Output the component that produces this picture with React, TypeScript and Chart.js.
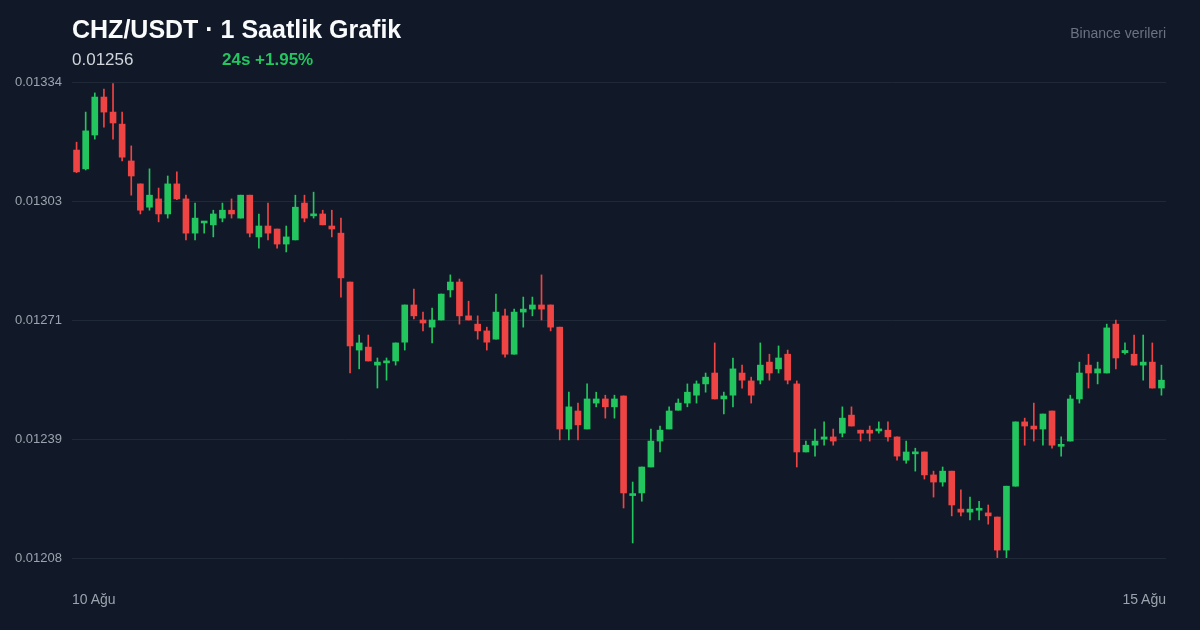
import { useEffect, useRef } from "react";
import { Chart, registerables } from "chart.js";

Chart.register(...registerables);

// ---- Data (CHZ/USDT hourly candles, 10–15 Ağu) ----
const opens = [
  0.013163, 0.013113, 0.013203, 0.013304, 0.013264, 0.013232, 0.013134, 0.013073, 0.013011, 0.013033,
  0.012993, 0.013073, 0.013033, 0.012942, 0.012969, 0.012964, 0.012982, 0.013003, 0.012982, 0.013043,
  0.012932, 0.012961, 0.012953, 0.012913, 0.012924, 0.013022, 0.012988, 0.012993, 0.012961, 0.012942,
  0.012812, 0.012631, 0.012639, 0.012591, 0.012597, 0.012602, 0.012652, 0.012751, 0.012711, 0.012692,
  0.012711, 0.012791, 0.012812, 0.012722, 0.0127, 0.012682, 0.01266, 0.012722, 0.01262, 0.012732,
  0.01274, 0.012751, 0.012751, 0.012692, 0.012421, 0.012469, 0.012421, 0.01249, 0.012501, 0.01248,
  0.012509, 0.012244, 0.012251, 0.01232, 0.012389, 0.012421, 0.012471, 0.01249, 0.012511, 0.012541,
  0.01257, 0.012501, 0.012511, 0.01257, 0.012549, 0.012551, 0.012599, 0.012581, 0.01262, 0.012541,
  0.01236, 0.012378, 0.012394, 0.0124, 0.01241, 0.012458, 0.012418, 0.012418, 0.012416, 0.012418,
  0.0124, 0.012338, 0.012355, 0.01236, 0.012299, 0.01228, 0.012309, 0.012208, 0.0122, 0.012205,
  0.012198, 0.012187, 0.012099, 0.012269, 0.01244, 0.012429, 0.012421, 0.012469, 0.012375, 0.012389,
  0.012501, 0.012591, 0.01257, 0.01257, 0.0127, 0.012624, 0.01262, 0.012591, 0.012599, 0.01253,
];

const highs = [
  0.013184, 0.013264, 0.013315, 0.013325, 0.01334, 0.013264, 0.013174, 0.013073, 0.013113, 0.013062,
  0.013094, 0.013105, 0.013043, 0.013022, 0.012973, 0.013003, 0.013022, 0.013033, 0.013043, 0.013043,
  0.012993, 0.013022, 0.012953, 0.012961, 0.013043, 0.013043, 0.013051, 0.013003, 0.013003, 0.012982,
  0.012812, 0.012671, 0.012671, 0.01261, 0.01261, 0.01265, 0.012751, 0.012793, 0.012732, 0.012743,
  0.01278, 0.012831, 0.01282, 0.012761, 0.012722, 0.012692, 0.01278, 0.01274, 0.01274, 0.012772,
  0.012772, 0.012831, 0.012751, 0.012692, 0.012519, 0.01249, 0.012541, 0.012519, 0.012511, 0.012511,
  0.012509, 0.01228, 0.01232, 0.012421, 0.012429, 0.01248, 0.012501, 0.012541, 0.012549, 0.01257,
  0.01265, 0.012519, 0.01261, 0.012591, 0.012559, 0.01265, 0.01262, 0.012642, 0.012631, 0.012549,
  0.012389, 0.012421, 0.01244, 0.012421, 0.01248, 0.01248, 0.012418, 0.012429, 0.01244, 0.01244,
  0.0124, 0.012389, 0.01237, 0.01236, 0.012309, 0.01232, 0.012309, 0.012259, 0.01224, 0.012229,
  0.012219, 0.012187, 0.012269, 0.01244, 0.01245, 0.01249, 0.012461, 0.012469, 0.0124, 0.012511,
  0.012599, 0.01262, 0.012599, 0.0127, 0.012711, 0.01265, 0.012671, 0.012671, 0.01265, 0.012591,
];

const lows = [
  0.013103, 0.01311, 0.013192, 0.013224, 0.013192, 0.013134, 0.013043, 0.012993, 0.013003, 0.012972,
  0.012982, 0.013031, 0.012924, 0.012924, 0.012942, 0.012932, 0.012972, 0.012982, 0.012982, 0.012932,
  0.012902, 0.012924, 0.012902, 0.012892, 0.012924, 0.012972, 0.012982, 0.012964, 0.012932, 0.012772,
  0.01257, 0.012581, 0.012602, 0.01253, 0.012551, 0.012591, 0.012631, 0.012714, 0.012682, 0.01265,
  0.012711, 0.012772, 0.0127, 0.012711, 0.01266, 0.012631, 0.01266, 0.012612, 0.01262, 0.012692,
  0.012722, 0.012711, 0.012682, 0.012392, 0.012392, 0.012392, 0.012421, 0.01248, 0.01245, 0.01245,
  0.012211, 0.012118, 0.012229, 0.01232, 0.01236, 0.012421, 0.012471, 0.01248, 0.01249, 0.012519,
  0.012501, 0.012461, 0.01248, 0.01253, 0.01249, 0.012541, 0.012551, 0.01257, 0.012541, 0.01232,
  0.01236, 0.012349, 0.012378, 0.012378, 0.0124, 0.012429, 0.012389, 0.012389, 0.01241, 0.012389,
  0.012338, 0.01233, 0.012309, 0.012288, 0.01224, 0.012269, 0.01219, 0.01219, 0.012179, 0.012179,
  0.012168, 0.012079, 0.012079, 0.012269, 0.012378, 0.012389, 0.012378, 0.01237, 0.012349, 0.012389,
  0.01249, 0.01253, 0.012541, 0.01257, 0.012581, 0.01262, 0.012591, 0.012551, 0.01253, 0.012511,
];

const closes = [
  0.013105, 0.013214, 0.013304, 0.013264, 0.013235, 0.013144, 0.013094, 0.013003, 0.013043, 0.012993,
  0.013073, 0.013033, 0.012942, 0.012982, 0.012972, 0.012993, 0.013003, 0.012993, 0.013043, 0.012942,
  0.012961, 0.012942, 0.012913, 0.012932, 0.013011, 0.012982, 0.012993, 0.012964, 0.012953, 0.012823,
  0.012642, 0.01265, 0.012602, 0.012599, 0.012602, 0.01265, 0.012751, 0.012722, 0.012703, 0.012711,
  0.01278, 0.012812, 0.012722, 0.012711, 0.012682, 0.012652, 0.012732, 0.01262, 0.012732, 0.01274,
  0.012751, 0.01274, 0.012692, 0.012421, 0.01248, 0.012432, 0.012501, 0.012501, 0.01248, 0.012501,
  0.012251, 0.012248, 0.01232, 0.012389, 0.012418, 0.012469, 0.01249, 0.012519, 0.012541, 0.012559,
  0.012501, 0.012509, 0.012581, 0.012551, 0.012511, 0.012591, 0.01257, 0.01261, 0.012551, 0.01236,
  0.012378, 0.012389, 0.0124, 0.012389, 0.01245, 0.012429, 0.01241, 0.01241, 0.01242, 0.0124,
  0.012349, 0.01236, 0.01236, 0.012299, 0.01228, 0.012309, 0.012219, 0.0122, 0.012208, 0.012208,
  0.01219, 0.012099, 0.012269, 0.01244, 0.012429, 0.012421, 0.012461, 0.012378, 0.012379, 0.012501,
  0.01257, 0.01257, 0.012581, 0.01269, 0.01261, 0.01263, 0.012591, 0.012599, 0.01253, 0.012551,
];

const hourLabels = opens.map(
  (_, i) => `${10 + Math.floor(i / 24)} Ağu ${String(i % 24).padStart(2, "0")}:00`
);

const yMin = 0.012078;
const yMax = 0.013344;
const yTickValues = [0.012078, 0.0123945, 0.012711, 0.0130275, 0.013344];
const yTickLabels = ["0.01208", "0.01239", "0.01271", "0.01303", "0.01334"];
const xEdgeLabels = ["10 Ağu", "15 Ağu"];

const titleText = "CHZ/USDT · 1 Saatlik Grafik";
const lastPriceText = "0.01256";
const changeText = "24s +1.95%";
const sourceText = "Binance verileri";

const UP = "#22c55e";
const DOWN = "#ef4444";
const BG = "#111827";
const FONT = "'Liberation Sans', Arial, Helvetica, sans-serif";

export default function App() {
  const canvasRef = useRef<HTMLCanvasElement | null>(null);

  useEffect(() => {
    const canvas = canvasRef.current;
    if (!canvas) return;
    const colors = opens.map((o, i) => (closes[i] >= o ? UP : DOWN));
    const wicks = lows.map((l, i) => [l, highs[i]]);
    const bodies = opens.map((o, i) => [Math.min(o, closes[i]), Math.max(o, closes[i])]);

    const chart = new Chart(canvas, {
      type: "bar",
      data: {
        labels: hourLabels,
        datasets: [
          {
            data: bodies as any,
            backgroundColor: colors,
            borderWidth: 0,
            barThickness: 6,
            minBarLength: 2,
            grouped: false,
          } as any,
          {
            data: wicks as any,
            backgroundColor: colors,
            borderWidth: 0,
            barThickness: 1,
            grouped: false,
          } as any,
        ],
      },
      options: {
        responsive: false,
        animation: false,
        layout: { padding: { left: 0, right: 34, top: 82, bottom: 72 } },
        plugins: {
          legend: { display: false },
          tooltip: { enabled: false },
        },
        scales: {
          x: { display: false, offset: true },
          y: {
            min: yMin,
            max: yMax,
            afterBuildTicks: (scale: any) => {
              scale.ticks = yTickValues.map((v) => ({ value: v }));
            },
            afterFit: (scale: any) => {
              scale.width = 72;
            },
            grid: { color: "#1f2937", drawTicks: false, lineWidth: 1 },
            border: { display: false },
            ticks: {
              color: "#9ca3af",
              padding: 10,
              font: { family: FONT, size: 13 },
              callback: (_v: any, i: number) => yTickLabels[i],
            },
          },
        },
      },
    });
    return () => chart.destroy();
  }, []);

  const base: React.CSSProperties = {
    position: "absolute",
    fontFamily: FONT,
    whiteSpace: "nowrap",
    margin: 0,
  };

  return (
    <div
      style={{
        position: "fixed",
        left: 0,
        top: 0,
        width: 1200,
        height: 630,
        background: BG,
        overflow: "hidden",
      }}
    >
      <canvas ref={canvasRef} width={1200} height={630} style={{ position: "absolute", left: 0, top: 0 }} />
      <div style={{ ...base, left: 72, top: 17, fontSize: 25, lineHeight: "25px", fontWeight: 700, color: "#f9fafb" }}>
        {titleText}
      </div>
      <div style={{ ...base, left: 72, top: 51, fontSize: 17, lineHeight: "17px", color: "#d1d5db" }}>
        {lastPriceText}
      </div>
      <div style={{ ...base, left: 222, top: 51, fontSize: 17, lineHeight: "17px", fontWeight: 700, color: UP }}>
        {changeText}
      </div>
      <div style={{ ...base, right: 34, top: 26, fontSize: 14, lineHeight: "14px", color: "#6b7280" }}>
        {sourceText}
      </div>
      <div style={{ ...base, left: 72, top: 592, fontSize: 14, lineHeight: "14px", color: "#9ca3af" }}>
        {xEdgeLabels[0]}
      </div>
      <div style={{ ...base, right: 34, top: 592, fontSize: 14, lineHeight: "14px", color: "#9ca3af" }}>
        {xEdgeLabels[1]}
      </div>
    </div>
  );
}
